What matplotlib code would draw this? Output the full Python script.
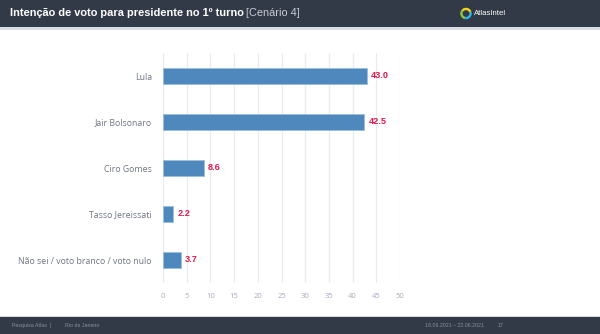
import matplotlib.pyplot as plt
from matplotlib.patches import Rectangle, Wedge

# Dados do gráfico
categorias = ['Lula', 'Jair Bolsonaro', 'Ciro Gomes', 'Tasso Jereissati',
              'Não sei / voto branco / voto nulo']
valores = [43.0, 42.5, 8.6, 2.2, 3.7]
ticks_x = [0, 5, 10, 15, 20, 25, 30, 35, 40, 45, 50]

W, H = 600, 334
fig = plt.figure(figsize=(W / 100, H / 100), dpi=100)
fig.patch.set_facecolor('white')

# Faixa do cabeçalho
fig.patches.append(Rectangle((0, 1 - 27 / H), 1, 27 / H, transform=fig.transFigure,
                             facecolor='#333a47', edgecolor='none', zorder=0))
fig.patches.append(Rectangle((0, 1 - 29.5 / H), 1, 2.5 / H, transform=fig.transFigure,
                             facecolor='#d9dce2', edgecolor='none', zorder=0))
# Faixa do rodapé
fig.patches.append(Rectangle((0, 0), 1, 17 / H, transform=fig.transFigure,
                             facecolor='#333a47', edgecolor='none', zorder=0))
fig.patches.append(Rectangle((0, 17 / H), 1, 1.5 / H, transform=fig.transFigure,
                             facecolor='#d9dce2', edgecolor='none', zorder=0))

# Título
t1 = fig.text(10 / W, 1 - 13.5 / H, 'Intenção de voto para presidente no 1º turno',
              color='white', fontsize=7.9, fontweight='bold', family='Liberation Sans',
              va='center', ha='left')
fig.canvas.draw()
bb = t1.get_window_extent()
fig.text(bb.x1 / W + 2.5 / W, 1 - 13.5 / H, '[Cenário 4]', color='#c9cdd5', fontsize=7.9,
         family='Liberation Sans', va='center', ha='left')

# Logo
lax = fig.add_axes([458 / W, 1 - 21.5 / H, 16 / W, 16 / H])
lax.set_zorder(5)
lax.set_xlim(-1, 1)
lax.set_ylim(-1, 1)
lax.set_aspect('equal')
lax.axis('off')
for th1, th2, c in [(20, 140, '#f4d21f'), (140, 260, '#8cc63f'), (260, 380, '#29b6e8')]:
    lax.add_patch(Wedge((0, 0), 0.72, th1, th2, width=0.3, facecolor=c, edgecolor='none'))
fig.text(474 / W, 1 - 13.5 / H, 'AtlasIntel', color='white', fontsize=5.6,
         family='Liberation Sans', va='center', ha='left')

# Rodapé
fc = '#8a909b'
fig.text(12 / W, 8.5 / H, 'Pesquisa Atlas  |', color=fc, fontsize=3.8,
         family='Liberation Sans', va='center')
fig.text(65 / W, 8.5 / H, 'Rio de Janeiro', color=fc, fontsize=3.8,
         family='Liberation Sans', va='center')
fig.text(425 / W, 8.5 / H, '18.06.2021 – 22.06.2021', color=fc, fontsize=3.8,
         family='Liberation Sans', va='center')
fig.text(498 / W, 8.5 / H, '17', color=fc, fontsize=3.8,
         family='Liberation Sans', va='center')

# Gráfico de barras
ax = fig.add_axes([163 / W, (H - 283) / H, 237 / W, 230 / H])
y = list(range(len(categorias)))
ax.barh(y, valores, height=0.35, color='#4f88bc', edgecolor='#9cbfe0',
        linewidth=0.6, zorder=3)
ax.set_xlim(0, 50)
ax.set_ylim(len(categorias) - 0.5, -0.5)
ax.set_xticks(ticks_x)
ax.set_xticklabels([str(t) for t in ticks_x], family='Open Sans', fontsize=5.5,
                   color='#a3acc2')
ax.set_yticks(y)
ax.set_yticklabels(categorias, family='Open Sans', fontsize=6.3, color='#6f7682')
ax.tick_params(axis='both', length=0)
ax.tick_params(axis='y', pad=8)
ax.tick_params(axis='x', pad=7)
ax.grid(axis='x', color='#e8ebf1', linewidth=0.9, zorder=0)
for s in ax.spines.values():
    s.set_visible(False)

for yi, v in zip(y, valores):
    ax.text(v + 0.9, yi, f'{v:.1f}', color='#e5194a', fontsize=6.6, fontweight='bold',
            family='Liberation Sans', va='center', ha='left', zorder=4)

fig.savefig('out.png', dpi=100)
